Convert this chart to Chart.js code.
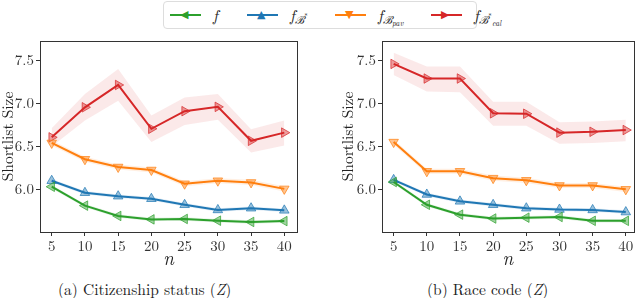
<!DOCTYPE html>
<html>
<head>
<meta charset="utf-8">
<script src="https://cdn.jsdelivr.net/npm/chart.js@4"></script>
<style>
  body { margin: 0; background: #fff; width: 640px; height: 298px; position: relative; overflow: hidden;
         font-family: "Latin Modern Roman", "Liberation Serif", serif; color: #222; }
  .chart { position: absolute; top: 30px; width: 320px; height: 240px; }
  #legend { position: absolute; left: 163px; top: 1px; width: 314px; height: 28px; border: 1px solid #ddd;
            border-radius: 4px; box-sizing: border-box; }
  .item { position: absolute; top: 0; height: 27px; }
  .swatch { position: absolute; top: 12px; width: 31px; height: 2px; }
  .mark { position: absolute; top: 3px; left: 10px; font-size: 11px; font-family: "DejaVu Sans"; line-height: 20px; }
  .lab { position: absolute; top: 3px; font-size: 16px; font-style: italic; white-space: nowrap; line-height: 20px; }
  .lab sub { font-size: 11px; vertical-align: -3px; }
  .lab sub sub { font-size: 8px; vertical-align: -2px; }
  .lab sup { font-size: 8px; vertical-align: 5px; font-style: normal; }
  .cap { position: absolute; top: 281px; font-size: 15.5px; line-height: 16px; white-space: nowrap; }
</style>
</head>
<body>
<div id="legend">
  <div class="item" style="left:6px"><div class="swatch" style="background:#2ca02c"></div><span class="mark" style="color:#2ca02c">◀</span><span class="lab" style="left:43px">f</span></div>
  <div class="item" style="left:83px"><div class="swatch" style="background:#1f77b4"></div><span class="mark" style="color:#1f77b4">▲</span><span class="lab" style="left:43px">f<sub>ℬ<sup>*</sup></sub></span></div>
  <div class="item" style="left:171px"><div class="swatch" style="background:#ff7f0e"></div><span class="mark" style="color:#ff7f0e">▼</span><span class="lab" style="left:43px">f<sub>ℬ<sub>pav</sub></sub></span></div>
  <div class="item" style="left:267px"><div class="swatch" style="background:#d62728"></div><span class="mark" style="color:#d62728">▶</span><span class="lab" style="left:43px">f<sub>ℬ<sup>*</sup><sub>cal</sub></sub></span></div>
</div>
<canvas id="citChart" class="chart" width="320" height="240" style="left:0"></canvas>
<canvas id="raceChart" class="chart" width="320" height="240" style="left:320px"></canvas>
<div class="cap" style="left:58px">(a) Citizenship status (<i>Z</i>)</div>
<div class="cap" style="left:427px">(b) Race code (<i>Z</i>)</div>
<script>
const nVals = [5, 10, 15, 20, 25, 30, 35, 40];
const xTicks = [5, 10, 15, 20, 25, 30, 35, 40];
const yTicks = [6.0, 6.5, 7.0, 7.5];

// (a) Citizenship status
const citF     = [6.03, 5.81, 5.69, 5.65, 5.655, 5.635, 5.62, 5.63];
const citBstar = [6.10, 5.96, 5.92, 5.89, 5.82, 5.76, 5.78, 5.755];
const citBpav  = [6.54, 6.35, 6.26, 6.225, 6.065, 6.10, 6.08, 6.005];
const citBcal  = [6.605, 6.955, 7.215, 6.705, 6.91, 6.96, 6.565, 6.66];
const citCalLo = [6.50, 6.80, 7.03, 6.55, 6.75, 6.81, 6.43, 6.51];
const citCalHi = [6.71, 7.11, 7.40, 6.86, 7.07, 7.11, 6.70, 6.80];
const citErrF     = [0.02, 0.02, 0.02, 0.02, 0.02, 0.02, 0.02, 0.02];
const citErrBstar = [0.02, 0.02, 0.02, 0.02, 0.02, 0.02, 0.02, 0.02];
const citErrBpav  = [0.03, 0.03, 0.03, 0.03, 0.03, 0.03, 0.03, 0.03];

// (b) Race code
const raceF     = [6.085, 5.82, 5.705, 5.66, 5.67, 5.678, 5.633, 5.633];
const raceBstar = [6.11, 5.94, 5.86, 5.82, 5.78, 5.765, 5.76, 5.735];
const raceBpav  = [6.55, 6.21, 6.21, 6.13, 6.105, 6.045, 6.045, 6.0];
const raceBcal  = [7.46, 7.29, 7.29, 6.885, 6.88, 6.66, 6.67, 6.69];
const raceCalLo = [7.33, 7.14, 7.13, 6.74, 6.74, 6.53, 6.54, 6.56];
const raceCalHi = [7.59, 7.43, 7.43, 7.02, 7.02, 6.78, 6.79, 6.81];
const raceErrF     = [0.02, 0.02, 0.02, 0.02, 0.02, 0.02, 0.02, 0.02];
const raceErrBstar = [0.02, 0.02, 0.02, 0.02, 0.02, 0.02, 0.02, 0.02];
const raceErrBpav  = [0.03, 0.03, 0.03, 0.03, 0.03, 0.03, 0.03, 0.03];

const GREEN = '44,160,44', BLUE = '31,119,180', ORANGE = '255,127,14', RED = '214,39,40';
const SERIF = "'Latin Modern Roman', 'Liberation Serif', serif";

function pts(ys) { return nVals.map((x, i) => ({ x: x, y: ys[i] })); }

function lineSet(ys, rgb, rot) {
    return {
        data: pts(ys),
        borderColor: 'rgb(' + rgb + ')',
        borderWidth: 2,
        pointStyle: 'triangle',
        pointRotation: rot,
        pointRadius: 5.5,
        pointBorderWidth: 1,
        pointBackgroundColor: 'rgba(' + rgb + ',0.45)',
        pointBorderColor: 'rgba(' + rgb + ',0.7)',
        fill: false,
        order: 0
    };
}

function bandSets(lo, hi, rgb, alpha, idx) {
    return [
        { data: pts(lo), borderWidth: 0, pointRadius: 0, fill: false, order: 5 },
        { data: pts(hi), borderWidth: 0, pointRadius: 0, fill: idx, order: 5,
          backgroundColor: 'rgba(' + rgb + ',' + alpha + ')' }
    ];
}

function plusMinus(ys, err, sign) { return ys.map((v, i) => v + sign * err[i]); }

const frame = {
    id: 'frame',
    afterDraw(chart) {
        const a = chart.chartArea, ctx = chart.ctx;
        ctx.save();
        ctx.strokeStyle = '#333';
        ctx.lineWidth = 1;
        ctx.strokeRect(Math.round(a.left) + 0.5, Math.round(a.top) + 0.5,
                       Math.round(a.right - a.left), Math.round(a.bottom - a.top));
        ctx.restore();
    }
};

function makeChart(id, f, bstar, bpav, bcal, calLo, calHi, eF, eB, eP, xMin, xMax, yWidth, padLeft, padRight) {
    const datasets = [
        lineSet(f, GREEN, 270),
        lineSet(bstar, BLUE, 0),
        lineSet(bpav, ORANGE, 180),
        lineSet(bcal, RED, 90)
    ];
    datasets.push(...bandSets(plusMinus(f, eF, -1), plusMinus(f, eF, 1), GREEN, 0.12, 4));
    datasets.push(...bandSets(plusMinus(bstar, eB, -1), plusMinus(bstar, eB, 1), BLUE, 0.12, 6));
    datasets.push(...bandSets(plusMinus(bpav, eP, -1), plusMinus(bpav, eP, 1), ORANGE, 0.12, 8));
    datasets.push(...bandSets(calLo, calHi, RED, 0.1, 10));

    new Chart(document.getElementById(id).getContext('2d'), {
        type: 'line',
        data: { datasets: datasets },
        plugins: [frame],
        options: {
            responsive: false,
            animation: false,
            layout: { padding: { top: 6, left: padLeft, right: padRight, bottom: 0 } },
            plugins: { legend: { display: false }, tooltip: { enabled: false } },
            scales: {
                x: {
                    type: 'linear', min: xMin, max: xMax,
                    afterBuildTicks: s => { s.ticks = xTicks.map(v => ({ value: v })); },
                    afterFit: s => { s.height = 38; },
                    border: { display: false },
                    grid: { drawOnChartArea: false, drawTicks: true, tickLength: 4, color: '#333' },
                    ticks: { color: '#333', padding: 1, maxRotation: 0,
                             font: { family: SERIF, size: 15 } },
                    title: { display: true, text: 'n', color: '#222', padding: { top: 0, bottom: 1 },
                             font: { family: SERIF, size: 19, style: 'italic', lineHeight: 1 } }
                },
                y: {
                    min: 5.503, max: 7.727,
                    afterBuildTicks: s => { s.ticks = yTicks.map(v => ({ value: v })); },
                    afterFit: s => { s.width = yWidth; },
                    border: { display: false },
                    grid: { drawOnChartArea: false, drawTicks: true, tickLength: 4, color: '#333' },
                    ticks: { color: '#333', padding: 2, callback: v => v.toFixed(1),
                             font: { family: SERIF, size: 15 } },
                    title: { display: true, text: 'Shortlist Size', color: '#222', padding: 0,
                             font: { family: SERIF, size: 15.5, lineHeight: 1 } }
                }
            }
        }
    });
}

makeChart('citChart', citF, citBstar, citBpav, citBcal, citCalLo, citCalHi,
          citErrF, citErrBstar, citErrBpav, 3.24, 41.91, 40, 0, 23);
makeChart('raceChart', raceF, raceBstar, raceBpav, raceBcal, raceCalLo, raceCalHi,
          raceErrF, raceErrBstar, raceErrBpav, 3.245, 41.16, 42, 20, 5);
</script>
</body>
</html>
